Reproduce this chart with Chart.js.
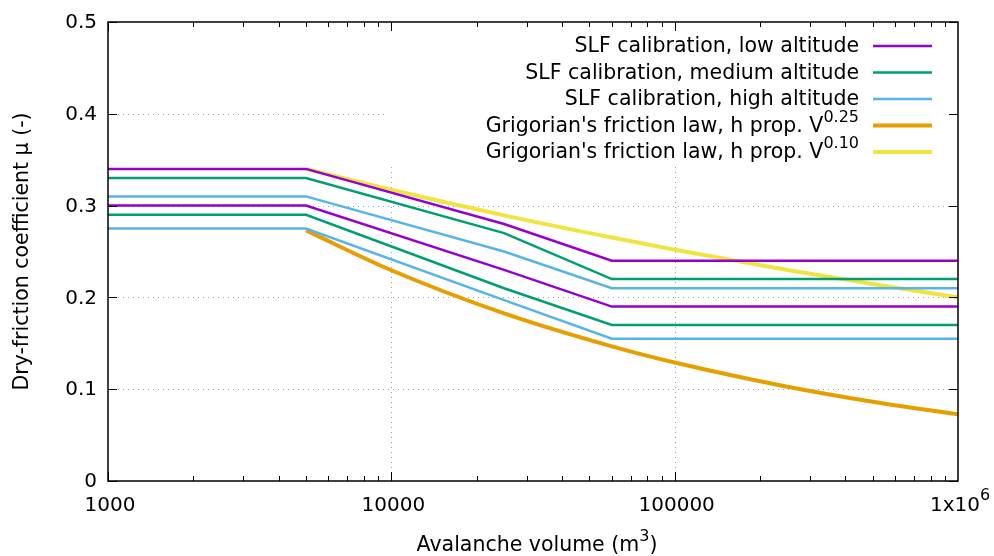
<!DOCTYPE html>
<html>
<head>
<meta charset="utf-8">
<script src="https://cdn.jsdelivr.net/npm/chart.js@4/dist/chart.umd.min.js"></script>
<style>
html,body{margin:0;padding:0;background:#fff;}
canvas{display:block;}
</style>
</head>
<body>
<canvas id="c" width="994" height="556"></canvas>
<script>
// ---- data ----
const volumesSLF = [1000, 5000, 25000, 60000, 1000000];
const slfLowUpper  = [0.34, 0.34, 0.28, 0.24, 0.24];
const slfLowLower  = [0.30, 0.30, 0.23, 0.19, 0.19];
const slfMedUpper  = [0.33, 0.33, 0.27, 0.22, 0.22];
const slfMedLower  = [0.29, 0.29, 0.21, 0.17, 0.17];
const slfHighUpper = [0.31, 0.31, 0.25, 0.21, 0.21];
const slfHighLower = [0.275, 0.275, 0.197, 0.155, 0.155];

const volumesGrig = [5000, 10000, 25000, 60000, 100000, 250000, 500000, 1000000];
const grig025 = [0.273, 0.2296, 0.1826, 0.1467, 0.1291, 0.1027, 0.0863, 0.0726];
const grig010 = [0.340, 0.3172, 0.2894, 0.2652, 0.2520, 0.2299, 0.2145, 0.2001];

const xMajorTicks = [1000, 10000, 100000, 1000000];
const xTickLabels = [["1000", ""], ["10000", ""], ["100000", ""], ["1x10", "6"]];
const yTicks = [0, 0.1, 0.2, 0.3, 0.4, 0.5];
const yTickLabels = ["0", "0.1", "0.2", "0.3", "0.4", "0.5"];

const legendEntries = [
  {text: "SLF calibration, low altitude", sup: "", color: "#9400d3", w: 2.5},
  {text: "SLF calibration, medium altitude", sup: "", color: "#009e73", w: 2.5},
  {text: "SLF calibration, high altitude", sup: "", color: "#56b4e9", w: 2.5},
  {text: "Grigorian's friction law, h prop. V", sup: "0.25", color: "#e69f00", w: 4},
  {text: "Grigorian's friction law, h prop. V", sup: "0.10", color: "#f0e442", w: 4}
];

function pts(xs, ys){ return xs.map((x,i)=>({x:x, y:ys[i]})); }
function ds(xs, ys, color, w, smooth){
  return {data: pts(xs, ys), borderColor: color, backgroundColor: color, borderWidth: w,
          pointRadius: 0, fill: false, tension: 0,
          cubicInterpolationMode: smooth ? 'monotone' : 'default'};
}

const FONT = "'DejaVu Sans', sans-serif";

const framePlugin = {
  id: 'frame',
  beforeDatasetsDraw(chart){
    const ctx = chart.ctx, a = chart.chartArea, xs = chart.scales.x, ys = chart.scales.y;
    ctx.save();
    ctx.strokeStyle = '#a0a0a0';
    ctx.lineWidth = 1;
    ctx.setLineDash([1, 4]);
    [10000, 100000].forEach(v => {
      const px = Math.round(xs.getPixelForValue(v)) + 0.5;
      ctx.beginPath(); ctx.moveTo(px, a.top); ctx.lineTo(px, a.bottom); ctx.stroke();
    });
    [0.1, 0.2, 0.3, 0.4].forEach(v => {
      const py = Math.round(ys.getPixelForValue(v)) + 0.5;
      ctx.beginPath(); ctx.moveTo(a.left, py); ctx.lineTo(a.right, py); ctx.stroke();
    });
    ctx.setLineDash([]);
    // opaque key box
    ctx.fillStyle = '#ffffff';
    ctx.fillRect(385, a.top + 1, a.right - 385 - 1, 165 - a.top);
    ctx.restore();
  },
  afterDatasetsDraw(chart){
    const ctx = chart.ctx, a = chart.chartArea, xs = chart.scales.x, ys = chart.scales.y;
    ctx.save();
    // ticks
    ctx.strokeStyle = '#000';
    ctx.lineWidth = 1;
    const major = 9, minor = 5;
    for (let d = 1000; d < 1000000; d *= 10) {
      for (let m = 1; m <= 9; m++) {
        const v = d * m;
        const px = Math.round(xs.getPixelForValue(v)) + 0.5;
        const len = (m === 1) ? major : minor;
        ctx.beginPath(); ctx.moveTo(px, a.bottom); ctx.lineTo(px, a.bottom - len); ctx.stroke();
        ctx.beginPath(); ctx.moveTo(px, a.top); ctx.lineTo(px, a.top + len); ctx.stroke();
      }
    }
    yTicks.forEach(v => {
      const py = Math.round(ys.getPixelForValue(v)) + 0.5;
      ctx.beginPath(); ctx.moveTo(a.left, py); ctx.lineTo(a.left + major, py); ctx.stroke();
      ctx.beginPath(); ctx.moveTo(a.right, py); ctx.lineTo(a.right - major, py); ctx.stroke();
    });
    // border
    ctx.lineWidth = 1.5;
    ctx.strokeRect(a.left, a.top, a.right - a.left, a.bottom - a.top);

    // tick labels
    ctx.fillStyle = '#000';
    ctx.font = "20px " + FONT;
    ctx.textBaseline = 'middle';
    ctx.textAlign = 'right';
    yTicks.forEach((v, i) => {
      ctx.fillText(yTickLabels[i], a.left - 11, ys.getPixelForValue(v) + 1);
    });
    xMajorTicks.forEach((v, i) => {
      const [main, sup] = xTickLabels[i];
      const px = xs.getPixelForValue(v) + 2;
      ctx.font = "20px " + FONT;
      const mw = ctx.measureText(main).width;
      ctx.font = "16px " + FONT;
      const sw = sup ? ctx.measureText(sup).width : 0;
      const start = px - (mw + sw) / 2;
      ctx.textAlign = 'left';
      ctx.font = "20px " + FONT;
      ctx.fillText(main, start, a.bottom + 25);
      if (sup) { ctx.font = "16px " + FONT; ctx.fillText(sup, start + mw, a.bottom + 15); }
    });

    // axis titles
    ctx.font = "20.5px " + FONT;
    ctx.textAlign = 'center';
    ctx.save();
    ctx.translate(23, (a.top + a.bottom) / 2);
    ctx.rotate(-Math.PI / 2);
    ctx.fillText("Dry-friction coefficient μ (-)", 0, 0);
    ctx.restore();
    {
      const main = "Avalanche volume (m", sup = "3", tail = ")";
      ctx.font = "20.5px " + FONT;
      const mw = ctx.measureText(main).width, tw = ctx.measureText(tail).width;
      ctx.font = "16px " + FONT;
      const sw = ctx.measureText(sup).width;
      const cx = (a.left + a.right) / 2 + 4;
      let x0 = cx - (mw + sw + tw) / 2;
      ctx.textAlign = 'left';
      ctx.font = "20.5px " + FONT; ctx.fillText(main, x0, 546);
      ctx.font = "16px " + FONT; ctx.fillText(sup, x0 + mw, 537);
      ctx.font = "20.5px " + FONT; ctx.fillText(tail, x0 + mw + sw, 546);
    }

    // legend
    const rx = 859, lx0 = 873, lx1 = 932;
    legendEntries.forEach((e, i) => {
      const y = 46 + i * 26.5;
      ctx.font = "16px " + FONT;
      const sw = e.sup ? ctx.measureText(e.sup).width : 0;
      ctx.font = "20.5px " + FONT;
      ctx.textAlign = 'right';
      ctx.fillStyle = '#000';
      ctx.fillText(e.text, rx - sw, y + 1);
      if (e.sup) {
        ctx.font = "16px " + FONT;
        ctx.textAlign = 'left';
        ctx.fillText(e.sup, rx - sw, y - 8);
      }
      ctx.strokeStyle = e.color;
      ctx.lineWidth = e.w;
      ctx.beginPath(); ctx.moveTo(lx0, y); ctx.lineTo(lx1, y); ctx.stroke();
    });
    ctx.restore();
  }
};

new Chart(document.getElementById('c'), {
  type: 'line',
  data: {
    datasets: [
      ds(volumesSLF, slfLowUpper, '#9400d3', 2.5, false),
      ds(volumesSLF, slfLowLower, '#9400d3', 2.5, false),
      ds(volumesSLF, slfMedUpper, '#009e73', 2.5, false),
      ds(volumesSLF, slfMedLower, '#009e73', 2.5, false),
      ds(volumesSLF, slfHighUpper, '#56b4e9', 2.5, false),
      ds(volumesSLF, slfHighLower, '#56b4e9', 2.5, false),
      ds(volumesGrig, grig025, '#e69f00', 4, true),
      ds(volumesGrig, grig010, '#f0e442', 4, true)
    ]
  },
  options: {
    responsive: false,
    animation: false,
    events: [],
    layout: {padding: {top: 22, right: 36, left: 0, bottom: 0}},
    plugins: {legend: {display: false}, tooltip: {enabled: false}},
    scales: {
      x: {type: 'logarithmic', min: 1000, max: 1000000,
          grid: {display: false}, border: {display: false}, ticks: {display: false},
          afterFit(s){ s.height = 75; }},
      y: {type: 'linear', min: 0, max: 0.5,
          grid: {display: false}, border: {display: false}, ticks: {display: false},
          afterFit(s){ s.width = 108; }}
    }
  },
  plugins: [framePlugin]
});
</script>
</body>
</html>
